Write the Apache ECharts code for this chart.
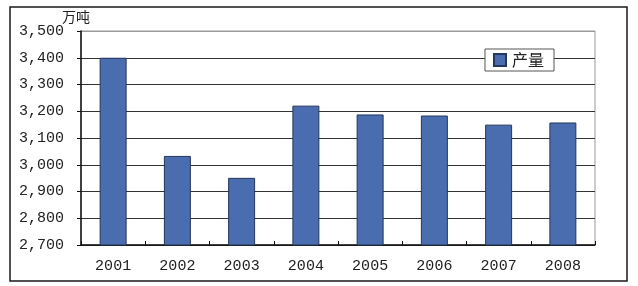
<!DOCTYPE html>
<html><head><meta charset="utf-8">
<script src="https://cdn.jsdelivr.net/npm/echarts@6/dist/echarts.min.js"></script>
<style>html,body{margin:0;padding:0;background:#fff}#c{width:638px;height:286px}</style>
</head><body><div id="c"></div>
<script>
const categories = ['2001','2002','2003','2004','2005','2006','2007','2008'];
const output = [3400, 3033, 2951, 3221, 3188, 3184, 3150, 3158];
const seriesName = '产量';
const unitLabel = '万吨';
const yMin = 2700, yMax = 3500, yStep = 100;

const chart = echarts.init(document.getElementById('c'), null, {renderer:'canvas'});
const gridColors = ['#333','#333','#333','#333','#333','#333','#333','#333','#9a9a9a'];
chart.setOption({
  animation:false,
  backgroundColor:'#fff',
  graphic:[
    {type:'rect', shape:{x:10,y:7,width:617,height:274}, style:{fill:'none', stroke:'#1a1a1a', lineWidth:1.5}, z:-1},
    {type:'text', left:62, top:10, style:{text:unitLabel, font:'14px "Noto Sans CJK SC"', fill:'#222'}}
  ],
  grid:{left:81, top:31, right:43, bottom:41, show:true, borderColor:'#9a9a9a', borderWidth:1, backgroundColor:'transparent'},
  legend:{
    data:[seriesName], right:84, top:49, orient:'horizontal',
    backgroundColor:'#fff', borderColor:'#555', borderWidth:1, padding:[3,10,3,8],
    itemWidth:12, itemHeight:12, itemGap:4, icon:'rect',
    textStyle:{fontFamily:'"Noto Sans CJK SC"', fontSize:16, color:'#222', padding:[0,0,0,1]}
  },
  xAxis:{
    type:'category', data:categories, boundaryGap:true,
    axisLine:{lineStyle:{color:'#111', width:1.5}},
    axisTick:{show:true, inside:true, length:4, lineStyle:{color:'#111'}},
    axisLabel:{fontFamily:'"Liberation Mono"', fontSize:15, color:'#222', margin:14}
  },
  yAxis:{
    type:'value', min:yMin, max:yMax, interval:yStep,
    axisLine:{show:true, lineStyle:{color:'#111', width:1.5}},
    axisTick:{show:true, inside:false, length:4, lineStyle:{color:'#111'}},
    splitLine:{show:true, lineStyle:{color:gridColors, width:1.2}},
    axisLabel:{fontFamily:'"Liberation Mono"', fontSize:15, color:'#222', margin:17,
      formatter:v => v.toLocaleString('en-US')}
  },
  series:[{
    name:seriesName, type:'bar', data:output, barWidth:'42%',
    itemStyle:{color:'#4a6db0', borderColor:'#243659', borderWidth:1}
  }]
});
</script></body></html>
